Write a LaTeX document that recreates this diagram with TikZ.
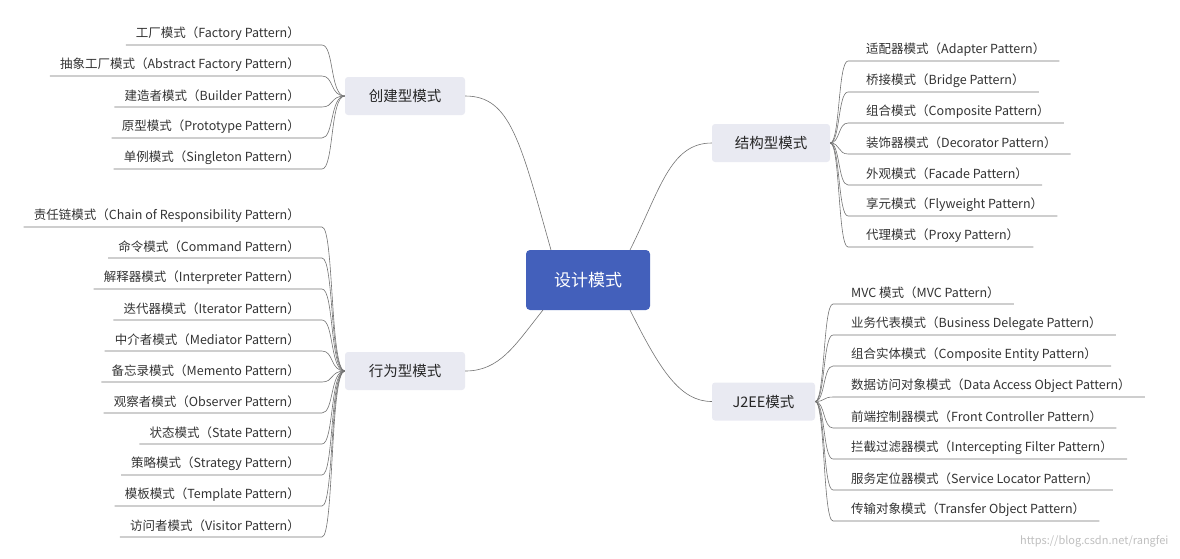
\documentclass[tikz,border=0pt]{standalone}
\usepackage{fontspec}
\setmainfont{Noto Sans CJK SC}
\begin{document}
\begin{tikzpicture}[x=1pt,y=-1pt,
  leaf/.style={font=\fontsize{12.5}{14}\selectfont, text=black!80, inner sep=0pt},
  br/.style={fill=bfill, rounded corners=3pt, minimum width=120pt, minimum height=38pt, font=\fontsize{14.5}{16}\selectfont, text=black!85, inner sep=0pt},
  ln/.style={draw=black!55, line width=0.6pt}]
\definecolor{bfill}{HTML}{E9EAF2}
\definecolor{rootc}{HTML}{4360BB}
\useasboundingbox (0,0) rectangle (1180,558);
\node[fill=rootc, rounded corners=4pt, minimum width=124pt, minimum height=60pt, text=white, font=\fontsize{17}{19}\selectfont] (root) at (588,280) {设计模式};
\node[br] (c) at (405,96) {创建型模式};
\node[br] (b) at (405,371) {行为型模式};
\node[br, minimum width=118pt] (s) at (771,143) {结构型模式};
\node[br, minimum width=103pt] (j) at (763.5,401.5) {J2EE模式};
\draw[ln] (551,250) .. controls (520,140) and (510,96) .. (c.east);
\draw[ln] (543,310) .. controls (515,345) and (500,371) .. (b.east);
\draw[ln] (630,250) .. controls (660,190) and (670,143) .. (s.west);
\draw[ln] (630,310) .. controls (660,370) and (680,401.5) .. (j.west);
% left leaves
\foreach \t [count=\i] in {工厂模式（Factory Pattern）,抽象工厂模式（Abstract Factory Pattern）,建造者模式（Builder Pattern）,原型模式（Prototype Pattern）,单例模式（Singleton Pattern）}{
  \pgfmathsetmacro\yy{34+31*(\i-1)}
  \node[leaf, anchor=east] (cl\i) at (300,\yy) {\t};
  \draw[ln] ([xshift=-10pt]cl\i.west |- 0,\yy+11) -- (322,\yy+11) .. controls (334,\yy+11) and (330,96) .. (c.west);
}
\foreach \t [count=\i] in {责任链模式（Chain of Responsibility Pattern）,命令模式（Command Pattern）,解释器模式（Interpreter Pattern）,迭代器模式（Iterator Pattern）,中介者模式（Mediator Pattern）,备忘录模式（Memento Pattern）,观察者模式（Observer Pattern）,状态模式（State Pattern）,策略模式（Strategy Pattern）,模板模式（Template Pattern）,访问者模式（Visitor Pattern）}{
  \pgfmathsetmacro\yy{216+31*(\i-1)}
  \node[leaf, anchor=east] (bl\i) at (300,\yy) {\t};
  \draw[ln] ([xshift=-10pt]bl\i.west |- 0,\yy+11) -- (322,\yy+11) .. controls (334,\yy+11) and (330,371) .. (b.west);
}
\foreach \t [count=\i] in {适配器模式（Adapter Pattern）,桥接模式（Bridge Pattern）,组合模式（Composite Pattern）,装饰器模式（Decorator Pattern）,外观模式（Facade Pattern）,享元模式（Flyweight Pattern）,代理模式（Proxy Pattern）}{
  \pgfmathsetmacro\yy{50+31*(\i-1)}
  \node[leaf, anchor=west] (sl\i) at (866,\yy) {\t};
  \draw[ln] ([xshift=14pt]sl\i.east |- 0,\yy+11) -- (848,\yy+11) .. controls (838,\yy+11) and (840,143) .. (s.east);
}
\foreach \t [count=\i] in {MVC 模式（MVC Pattern）,业务代表模式（Business Delegate Pattern）,组合实体模式（Composite Entity Pattern）,数据访问对象模式（Data Access Object Pattern）,前端控制器模式（Front Controller Pattern）,拦截过滤器模式（Intercepting Filter Pattern）,服务定位器模式（Service Locator Pattern）,传输对象模式（Transfer Object Pattern）}{
  \pgfmathsetmacro\yy{293+31*(\i-1)}
  \node[leaf, anchor=west] (jl\i) at (851,\yy) {\t};
  \draw[ln] ([xshift=14pt]jl\i.east |- 0,\yy+11) -- (833,\yy+11) .. controls (823,\yy+11) and (825,401.5) .. (j.east);
}
\node[text=black!25, font=\fontsize{11}{12}\selectfont, anchor=east] (wm) at (1172,541) {https://blog.csdn.net/rangfei};
\end{tikzpicture}
\end{document}
